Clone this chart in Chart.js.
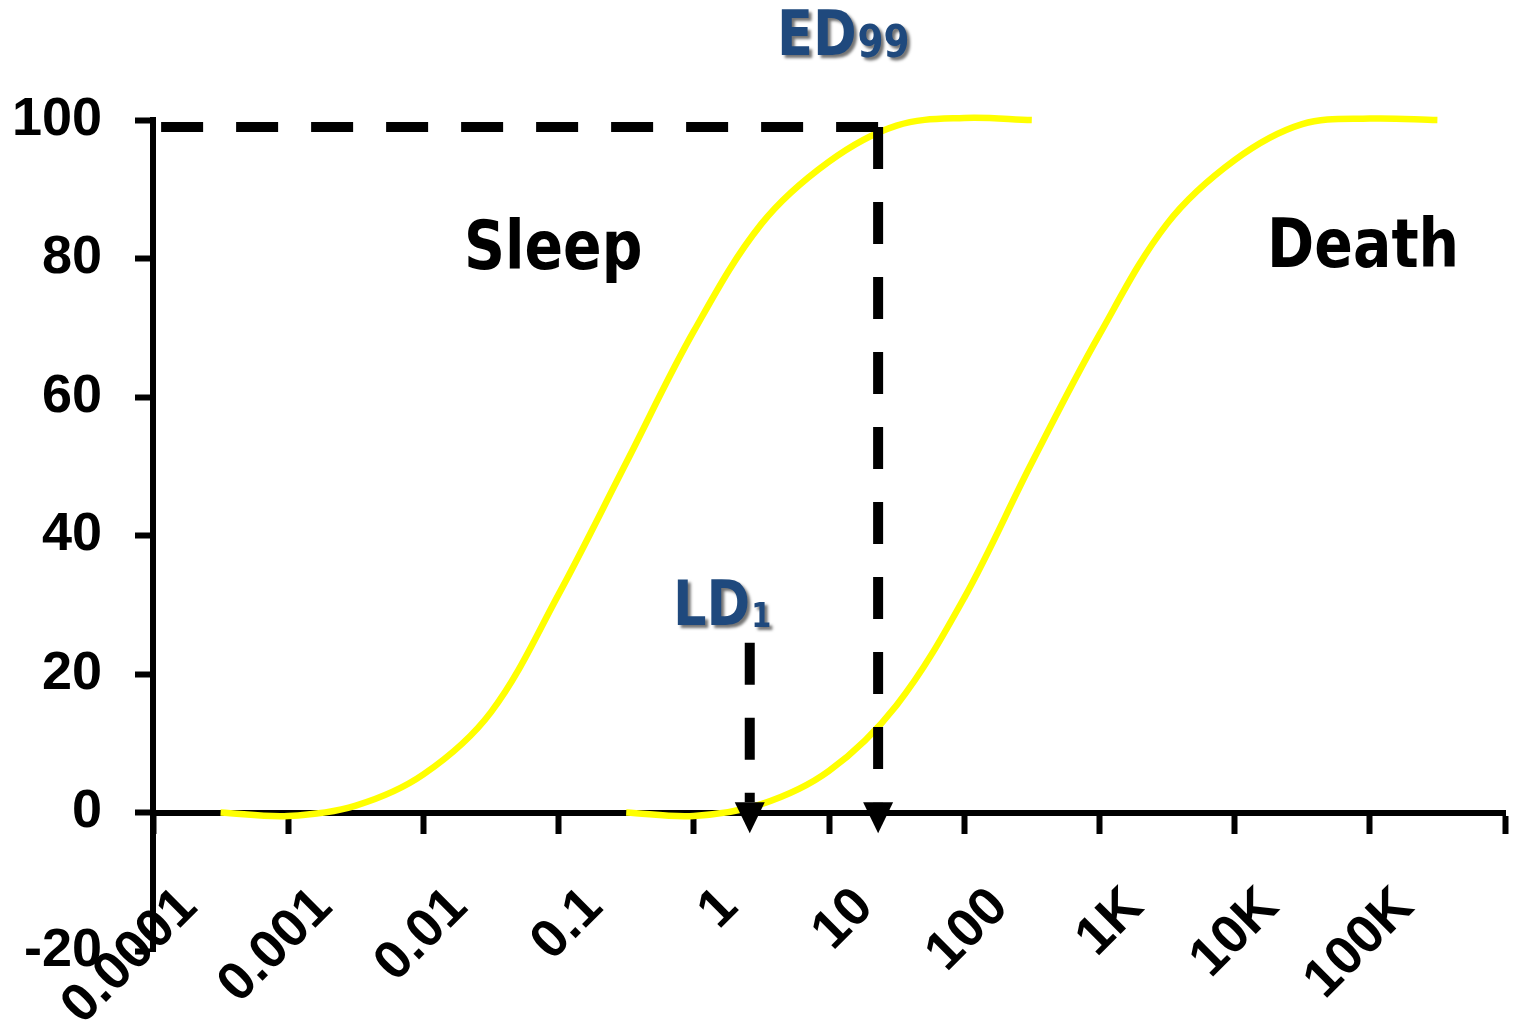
<!DOCTYPE html>
<html>
<head>
<meta charset="utf-8">
<title>Sleep and death dose-response curves</title>
<script src="https://cdn.jsdelivr.net/npm/chart.js@4.4.1/dist/chart.umd.min.js"></script>
<style>
  html, body { margin: 0; padding: 0; background: #ffffff; }
  canvas { display: block; }
</style>
</head>
<body>
<canvas id="doseChart" width="1518" height="1025"></canvas>
<script>
// Dose categories on the x axis (one per decade, 0.0001 = 10^-4)
const doseLabels = ['0.0001', '0.001', '0.01', '0.1', '1', '10', '100', '1K', '10K', '100K'];
const firstDecade = -4;

// Y axis ticks (% responding)
const responseTicks = [-20, 0, 20, 40, 60, 80, 100];

// Sleep curve: log10(dose) vs % responding
const sleepLogDose  = [-4, -3.5, -3, -2.5, -2, -1.5, -1, -0.5, 0, 0.5, 1, 1.5, 2];
const sleepResponse = [0, -0.5, 1, 5.5, 14.5, 31.5, 50.5, 69.5, 85, 94, 99.2, 100.3, 100];

// Death curve: log10(dose) vs % responding
const deathLogDose  = [-1, -0.5, 0, 0.5, 1, 1.5, 2, 2.5, 3, 3.5, 4, 4.5, 5];
const deathResponse = [0, -0.5, 1.2, 6, 15.5, 31, 50.5, 69, 85, 94.2, 99.4, 100.2, 100];

// Reference doses marked with dashed drop lines
const ed99Dose = 7.3;    // dose giving sleep in 99%
const ed99Level = 99;
const ld1Dose = 0.82;    // dose killing 1%
const ld1Top = 24.5;
const arrowTipLevel = -3;

// Text annotations: [text, subscript, log10 dose of left edge, % level of baseline]
const curveNames = [
  ['Sleep', '', -2.2, 78.5],
  ['Death', '', 3.74, 78.8]
];
const doseNames = [
  ['ED', '99', 0.115, 109.4],
  ['LD', '1', -0.654, 27.1]
];

// the axis spans half a decade beyond the first and last category
const axisMin = firstDecade - 0.5;
const axisMax = firstDecade + doseLabels.length - 0.5;

const toPoints = (xs, ys) => xs.map((v, i) => ({ x: v, y: ys[i] }));

const tickFont = { family: '"Liberation Sans", Arial, sans-serif', size: 54, weight: 'bold' };
const noteFamily = '"DejaVu Sans", Verdana, sans-serif';

function drawNote(ctx, text, sub, px, py, size, subSize, color, shadow, squeeze) {
  ctx.save();
  ctx.fillStyle = color;
  if (shadow) {
    ctx.shadowColor = 'rgba(0,0,0,0.55)';
    ctx.shadowBlur = 3;
    ctx.shadowOffsetX = 3;
    ctx.shadowOffsetY = 3;
  }
  ctx.textBaseline = 'alphabetic';
  ctx.textAlign = 'left';
  ctx.translate(px, py);
  ctx.scale(squeeze, 1);
  ctx.font = 'bold ' + size + 'px ' + noteFamily;
  ctx.fillText(text, 0, 0);
  if (sub) {
    const w = ctx.measureText(text).width;
    ctx.font = 'bold ' + subSize + 'px ' + noteFamily;
    ctx.fillText(sub, w + 1, 2);
  }
  ctx.restore();
}

const doseMarkers = {
  id: 'doseMarkers',
  afterDatasetsDraw(chart) {
    const { ctx, scales: { x, y } } = chart;
    const tipY = y.getPixelForValue(arrowTipLevel);
    const headLen = 31, headHalf = 15;

    const dashed = (x1, y1, x2, y2) => {
      ctx.beginPath();
      ctx.moveTo(x1, y1);
      ctx.lineTo(x2, y2);
      ctx.stroke();
    };
    const drop = (cx, top) => {
      const base = tipY - headLen;
      dashed(cx, top, cx, base);
      ctx.beginPath();
      ctx.moveTo(cx - headHalf, base);
      ctx.lineTo(cx + headHalf, base);
      ctx.lineTo(cx, tipY);
      ctx.closePath();
      ctx.fill();
    };

    ctx.save();
    ctx.strokeStyle = '#000000';
    ctx.fillStyle = '#000000';
    ctx.lineWidth = 10;
    ctx.lineCap = 'butt';
    ctx.setLineDash([42, 33]);

    const edX = x.getPixelForValue(Math.log10(ed99Dose));
    const edY = y.getPixelForValue(ed99Level);
    // horizontal guide runs from the ED99 point back to the y axis
    dashed(edX, edY, x.getPixelForValue(axisMin), edY);
    drop(edX, edY);

    const ldX = x.getPixelForValue(Math.log10(ld1Dose));
    drop(ldX, y.getPixelForValue(ld1Top));
    ctx.restore();

    curveNames.forEach(([t, s, lx, ly]) => {
      drawNote(ctx, t, s, x.getPixelForValue(lx), y.getPixelForValue(ly), 67, 40, '#000000', false, 0.85);
    });
    const subSizes = { '99': 44, '1': 34 };
    const mainSizes = { 'ED': 62, 'LD': 62 };
    doseNames.forEach(([t, s, lx, ly]) => {
      drawNote(ctx, t, s, x.getPixelForValue(lx), y.getPixelForValue(ly), mainSizes[t], subSizes[s], '#1F497D', true, 0.85);
    });
  }
};

const noPadding = (scale) => {
  scale.paddingLeft = 0;
  scale.paddingRight = 0;
  scale.paddingTop = 0;
  scale.paddingBottom = 0;
};

new Chart(document.getElementById('doseChart'), {
  type: 'line',
  data: {
    datasets: [
      {
        label: 'Sleep',
        data: toPoints(sleepLogDose, sleepResponse),
        borderColor: '#FFFF00',
        borderWidth: 6.5,
        pointRadius: 0,
        tension: 0.35,
        fill: false,
        clip: false
      },
      {
        label: 'Death',
        data: toPoints(deathLogDose, deathResponse),
        borderColor: '#FFFF00',
        borderWidth: 6.5,
        pointRadius: 0,
        tension: 0.35,
        fill: false,
        clip: false
      }
    ]
  },
  options: {
    responsive: false,
    devicePixelRatio: 1,
    animation: false,
    events: [],
    layout: { padding: { top: 120, right: 13, bottom: 74, left: 0 } },
    plugins: {
      legend: { display: false },
      tooltip: { enabled: false },
      title: { display: false }
    },
    scales: {
      x: {
        type: 'linear',
        position: { y: 0 },
        min: axisMin,
        max: axisMax,
        afterBuildTicks(scale) {
          const ticks = [];
          for (let v = axisMin; v <= axisMax + 1e-9; v += 0.5) ticks.push({ value: v });
          scale.ticks = ticks;
        },
        afterFit(scale) { scale.height = 0; noPadding(scale); },
        grid: {
          display: true,
          drawOnChartArea: false,
          drawTicks: true,
          tickLength: 18,
          tickWidth: 6,
          tickColor: (c) => (c.tick && Number.isInteger(c.tick.value)) ? 'rgba(0,0,0,0)' : '#000000'
        },
        border: { display: true, color: '#000000', width: 6 },
        ticks: {
          autoSkip: false,
          minRotation: 45,
          maxRotation: 45,
          padding: 45,
          labelOffset: -32,
          color: '#000000',
          font: tickFont,
          callback: (v) => Number.isInteger(v) ? doseLabels[v - firstDecade] : ''
        }
      },
      y: {
        type: 'linear',
        position: 'left',
        min: responseTicks[0],
        max: responseTicks[responseTicks.length - 1],
        afterBuildTicks(scale) {
          scale.ticks = responseTicks.map(v => ({ value: v }));
        },
        afterFit(scale) { scale.width = 153; noPadding(scale); },
        grid: {
          display: true,
          drawOnChartArea: false,
          drawTicks: true,
          tickLength: 18,
          tickWidth: 6,
          tickColor: '#000000'
        },
        border: { display: true, color: '#000000', width: 6 },
        ticks: {
          padding: 33,
          color: '#000000',
          font: tickFont,
          callback: (v) => String(v)
        }
      }
    }
  },
  plugins: [doseMarkers]
});
</script>
</body>
</html>
